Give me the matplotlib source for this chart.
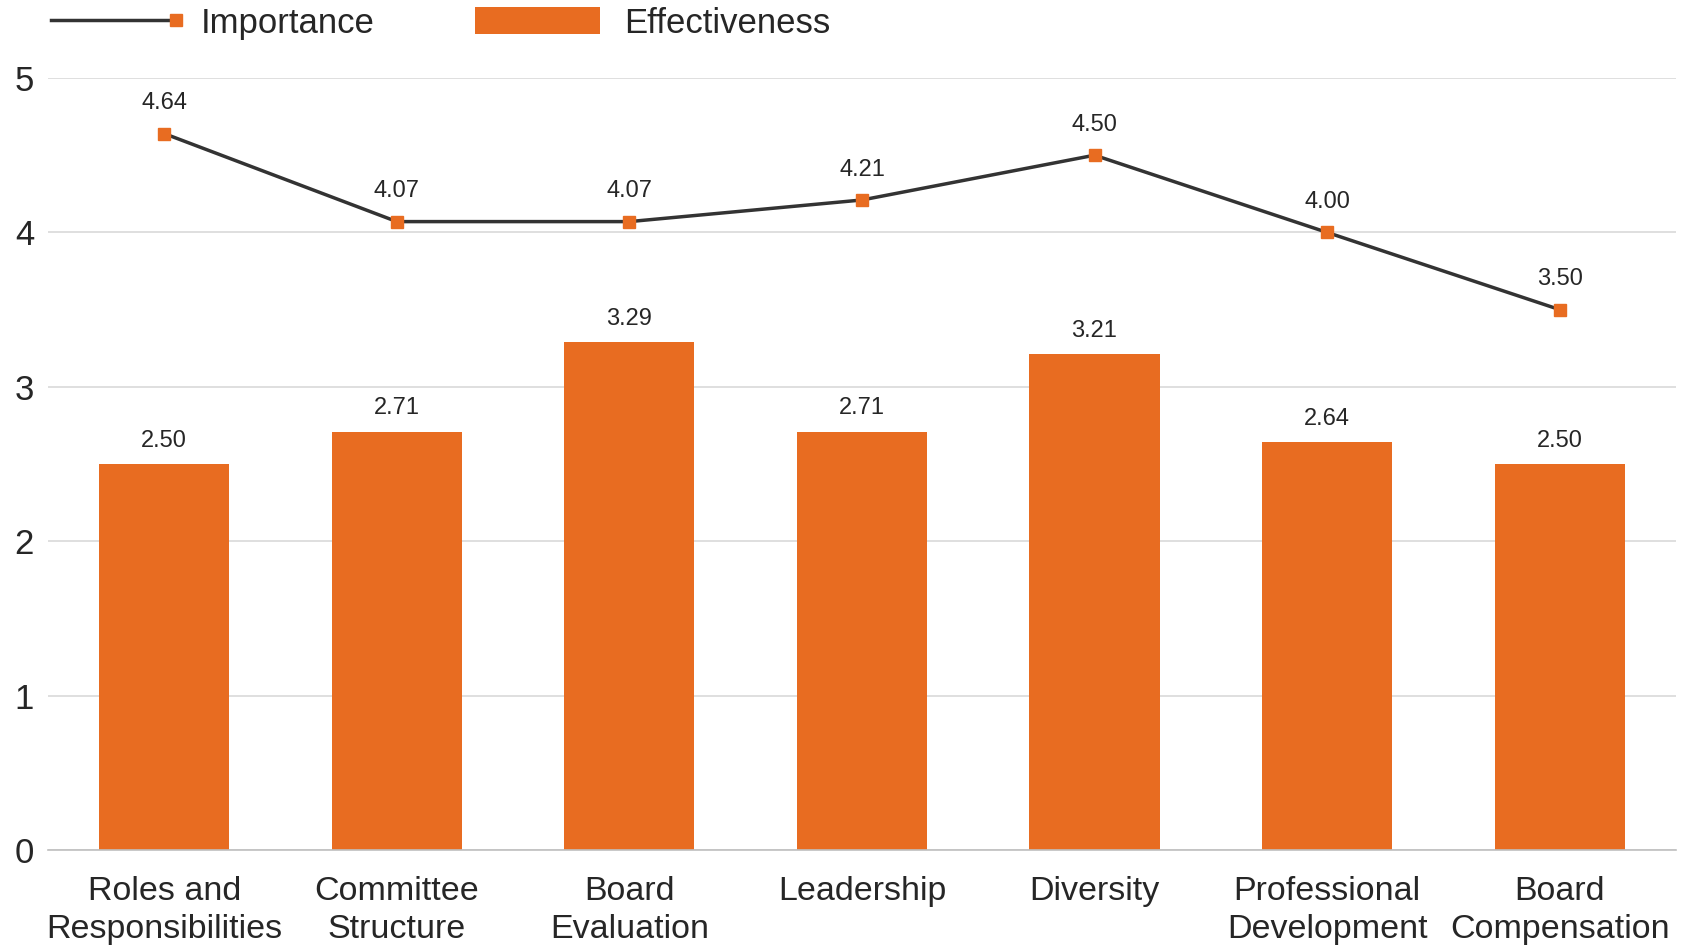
import matplotlib
matplotlib.use("Agg")
import matplotlib.pyplot as plt
from matplotlib.lines import Line2D
from matplotlib.patches import Patch
from matplotlib.legend_handler import HandlerLine2D

categories = ["Roles and\nResponsibilities", "Committee\nStructure", "Board\nEvaluation",
              "Leadership", "Diversity", "Professional\nDevelopment", "Board\nCompensation"]
importance = [4.64, 4.07, 4.07, 4.21, 4.50, 4.00, 3.50]
effectiveness = [2.50, 2.71, 3.29, 2.71, 3.21, 2.64, 2.50]
y_ticks = [0, 1, 2, 3, 4, 5]

ORANGE = "#E86C21"
DARK = "#333333"
GRID = "#D9D9D9"
TEXT = "#262626"


class EndMarkerHandler(HandlerLine2D):
    """Legend line with its marker placed at the right end only."""
    def create_artists(self, *args, **kwargs):
        artists = super().create_artists(*args, **kwargs)
        line = artists[0]
        line.set_markevery([len(line.get_xdata()) - 1])
        return artists


plt.rcParams["font.family"] = ["Liberation Sans", "DejaVu Sans"]

fig = plt.figure(figsize=(16.82, 9.49), dpi=100)
ax = fig.add_axes([0.0285, 0.1043, 0.9679, 0.8135])

x = list(range(len(categories)))
ax.bar(x, effectiveness, width=0.56, color=ORANGE, zorder=2)
ax.plot(x, importance, color=DARK, lw=2.5, marker="s", markersize=9,
        markerfacecolor=ORANGE, markeredgecolor=ORANGE, zorder=3)

for xi, v in zip(x, effectiveness):
    ax.annotate(f"{v:.2f}", (xi, v), xytext=(0, 9), textcoords="offset points",
                ha="center", va="bottom", fontsize=17, color=TEXT)
for xi, v in zip(x, importance):
    ax.annotate(f"{v:.2f}", (xi, v), xytext=(0, 14), textcoords="offset points",
                ha="center", va="bottom", fontsize=17, color=TEXT)

ax.set_xlim(-0.5, len(categories) - 0.5)
ax.set_ylim(0, 5)
ax.set_yticks(y_ticks)
ax.set_yticklabels([str(t) for t in y_ticks], fontsize=25, color=TEXT)
ax.set_xticks(x)
ax.set_xticklabels(categories, fontsize=24.5, color=TEXT, linespacing=1.28)
ax.tick_params(axis="both", length=0)
ax.tick_params(axis="y", pad=10)
ax.tick_params(axis="x", pad=19)
ax.yaxis.grid(True, color=GRID, lw=1.2, zorder=0)
ax.set_axisbelow(True)
for s in ["top", "right", "left"]:
    ax.spines[s].set_visible(False)
ax.spines["bottom"].set_color("#BFBFBF")
ax.spines["bottom"].set_linewidth(1.2)

line_handle = Line2D([0], [0], color=DARK, lw=2.5, marker="s", markersize=9,
                     markerfacecolor=ORANGE, markeredgecolor=ORANGE)
handles = [line_handle, Patch(facecolor=ORANGE)]
leg = fig.legend(handles, ["Importance", "Effectiveness"], loc="upper left",
                 bbox_to_anchor=(0.012, 1.026), ncol=2, frameon=False, fontsize=25,
                 handlelength=3.6, handleheight=0.8, columnspacing=2.9,
                 handletextpad=0.7, labelcolor=TEXT,
                 handler_map={line_handle: EndMarkerHandler()})

fig.savefig("out.png", dpi=100)
